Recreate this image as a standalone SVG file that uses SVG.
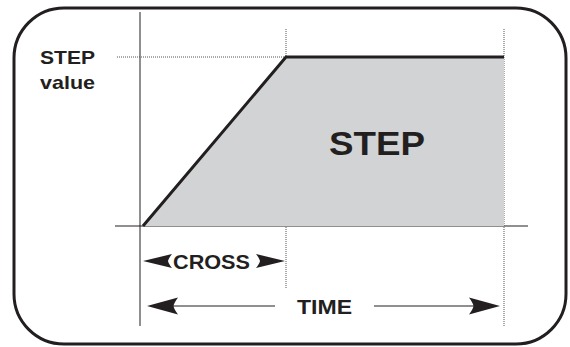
<svg xmlns="http://www.w3.org/2000/svg" xmlns:xlink="http://www.w3.org/1999/xlink" width="570" height="347" viewBox="0 0 570 347">
<style>
.frame{fill:none;stroke:#231f20;stroke-width:3}
.axis{stroke:#231f20;stroke-width:1;fill:none}
.dot{stroke:#555;stroke-width:1;stroke-dasharray:1 1;fill:none}
.lbl{font-family:"Liberation Sans",Arial,sans-serif;font-weight:bold;fill:#231f20}
.head{fill:#231f20}
</style>
<defs>
<path id="ah" d="M0,0 L31,-8.5 Q27,-3 26.5,0 Q27,3 31,8.5 Z"/>
<path id="ahs" d="M0,0 L29,-7 Q25.5,-2.5 25,0 Q25.5,2.5 29,7 Z"/>
</defs>
<rect class="frame" x="14" y="8" width="552" height="336" rx="50" ry="50"/>
<g id="axes">
<line class="axis" x1="140" y1="12" x2="140" y2="326"/>
<line class="axis" x1="115" y1="226" x2="528" y2="226"/>
<line class="dot" x1="117" y1="57" x2="286" y2="57"/>
<line class="dot" x1="286" y1="29" x2="286" y2="288"/>
<line class="dot" x1="504" y1="29" x2="504" y2="326"/>
</g>
<g id="step-shape">
<polygon points="143,226 286,57 504,57 504,226" fill="#d1d3d4"/>
<polyline points="143,226 286,57 504,57" fill="none" stroke="#231f20" stroke-width="3" stroke-linejoin="miter"/>
</g>
<g id="label-step-value">
<text class="lbl" x="40" y="64" font-size="19" textLength="55" lengthAdjust="spacingAndGlyphs">STEP</text>
<text class="lbl" x="40" y="89" font-size="19" textLength="55" lengthAdjust="spacingAndGlyphs">value</text>
</g>
<g id="label-step">
<text class="lbl" x="329" y="155" font-size="33" textLength="96" lengthAdjust="spacingAndGlyphs">STEP</text>
</g>
<g id="connectors">
<use xlink:href="#ahs" class="head" transform="translate(143,261)"/>
<use xlink:href="#ahs" class="head" transform="translate(285,261) scale(-1,1)"/>
<line class="axis" x1="165" y1="306" x2="275" y2="306"/>
<line class="axis" x1="374" y1="306" x2="485" y2="306"/>
<use xlink:href="#ah" class="head" transform="translate(147,306)"/>
<use xlink:href="#ah" class="head" transform="translate(500,306) scale(-1,1)"/>
</g>
<g id="label-cross">
<text class="lbl" x="173" y="269" font-size="21" textLength="77" lengthAdjust="spacingAndGlyphs">CROSS</text>
</g>
<g id="label-time">
<text class="lbl" x="297" y="314" font-size="21" textLength="55" lengthAdjust="spacingAndGlyphs">TIME</text>
</g>
</svg>
